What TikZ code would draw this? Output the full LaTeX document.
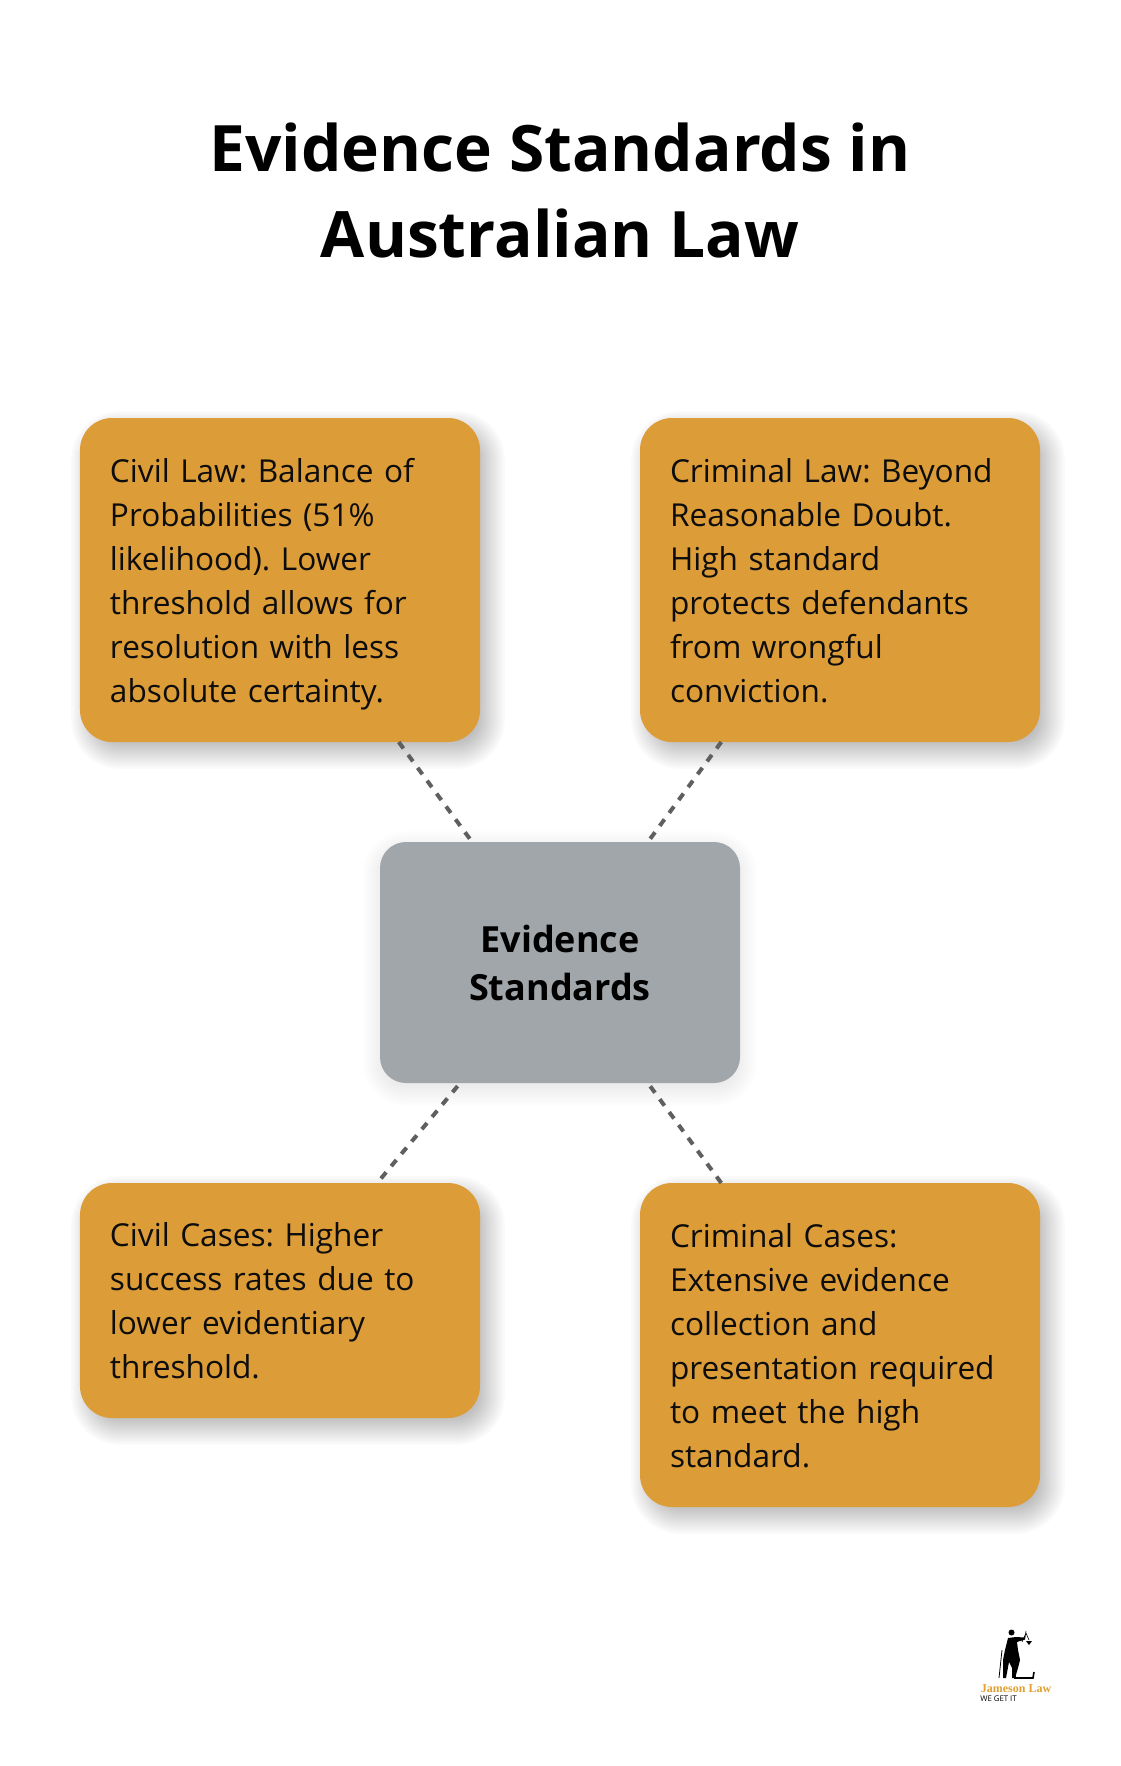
\documentclass[tikz,border=0pt]{standalone}
\usepackage{fontspec}
\setmainfont{Open Sans}
\newfontfamily\logoserif{Liberation Serif}
\usetikzlibrary{calc,backgrounds}
\definecolor{boxorange}{HTML}{DC9C38}
\definecolor{boxgray}{HTML}{A1A6AA}
\definecolor{linkgray}{HTML}{5F5F5F}
\definecolor{logogold}{HTML}{E0A030}
\newcommand\cardstrut{\rule[-9.8bp]{0pt}{44bp}}
% #1 node, #2 #3 shift, #4 spread, #5 corner, #6 layer opacity
\newcommand\softshadow[6]{
    \foreach \k in {1,...,16}{
        \pgfmathsetmacro\grow{#4*(1-2*(\k-.5)/16)}
        \pgfmathsetmacro\crad{max(#5+\grow,2)}
        \fill[black,fill opacity=#6,rounded corners=\crad bp]
            ($(#1.north west)+(#2-\grow,#3-\grow)$) rectangle ($(#1.south east)+(#2+\grow,#3+\grow)$);
    }
}
\tikzset{
    cardbox/.style={fill=boxorange,rounded corners=32bp,text width=340bp,inner xsep=30bp,inner ysep=0bp,
        outer sep=0bp,minimum height=#1,align=left,text=black!95,
        font=\fontsize{31.6bp}{44bp}\selectfont\frenchspacing,
        execute at begin node=\cardstrut,execute at end node=\cardstrut},
    hubbox/.style={fill=boxgray,rounded corners=26bp,minimum width=360bp,minimum height=241bp,outer sep=0bp,
        align=center,font=\fontsize{36bp}{48bp}\selectfont\bfseries},
    link/.style={draw=linkgray,line width=4bp,dash pattern=on 8bp off 8bp},
    logoink/.style={fill=black,draw=none},
}
\begin{document}
\begin{tikzpicture}[x=1bp,y=-1bp]
    \useasboundingbox (0,0) rectangle (1120,1766);

    \node (title) at (560,190) [align=center,font=\fontsize{64bp}{86bp}\selectfont\bfseries]
        {Evidence Standards in\\Australian Law};

    \node[hubbox] (evidence) at (560,962.5) {Evidence\\Standards};
    \node[cardbox=324bp] (civillaw) at (280,580) {Civil Law: Balance of\\Probabilities (51\%\\likelihood). Lower\\threshold allows for\\resolution with less\\absolute certainty.};
    \node[cardbox=324bp] (crimlaw) at (840,580) {Criminal Law: Beyond\\Reasonable Doubt.\\High standard\\protects defendants\\from wrongful\\conviction.};
    \node[cardbox=235bp] (civilcases) at (280,1300.5) {Civil Cases: Higher\\success rates due to\\lower evidentiary\\threshold.};
    \node[cardbox=324bp] (crimcases) at (840,1345) {Criminal Cases:\\Extensive evidence\\collection and\\presentation required\\to meet the high\\standard.};

    \begin{scope}[on background layer]
        \fill[white] (0,0) rectangle (1120,1766);
        \softshadow{evidence}{0}{6}{18}{26}{.007}
        \softshadow{civillaw}{8}{10}{18}{32}{.02}
        \softshadow{crimlaw}{8}{10}{18}{32}{.02}
        \softshadow{civilcases}{8}{10}{18}{32}{.02}
        \softshadow{crimcases}{8}{10}{18}{32}{.02}
    \end{scope}

    \draw[link] (civillaw) -- (evidence);
    \draw[link] (crimlaw) -- (evidence);
    \draw[link,dash phase=12bp] (evidence) -- (civilcases);
    \draw[link] (crimcases) -- (evidence);

    % logo
    \fill[logoink] (1011.5,1632.5) circle (3);
    \fill[logoink] (1008,1638) -- (1016,1637) -- (1025,1637.5) -- (1025,1639.5) -- (1017,1642) -- (1018,1650) -- (1020,1660) -- (1018,1668) -- (1015,1678) -- (1012,1678) -- (1012,1668) -- (1009,1662) -- (1006,1678) -- (1003,1678) -- (1003,1660) -- (1005,1650) -- cycle;
    \draw[black,line width=.8bp] (1002,1650) -- (999,1678);
    \draw[black,line width=.6bp] (1025,1638) -- (1026,1631) (1026,1633) -- (1029,1640) (1026,1633) -- (1022,1642);
    \fill[logoink] (1026,1641) -- (1032,1641) -- (1029,1645) -- cycle;
    \draw[black,line width=1.6bp] (1015,1660) -- (1015,1678) -- (1033,1678) -- (1034,1672);
    \node (logoname) at (1016,1688.5) [inner sep=0bp,text=logogold,font=\logoserif\fontsize{12bp}{12bp}\selectfont\bfseries] {Jameson Law};
    \node (logotag) at (998.5,1699) [inner sep=0bp,text=black,font=\fontsize{7.8bp}{8bp}\selectfont] {WE GET IT};
\end{tikzpicture}
\end{document}
